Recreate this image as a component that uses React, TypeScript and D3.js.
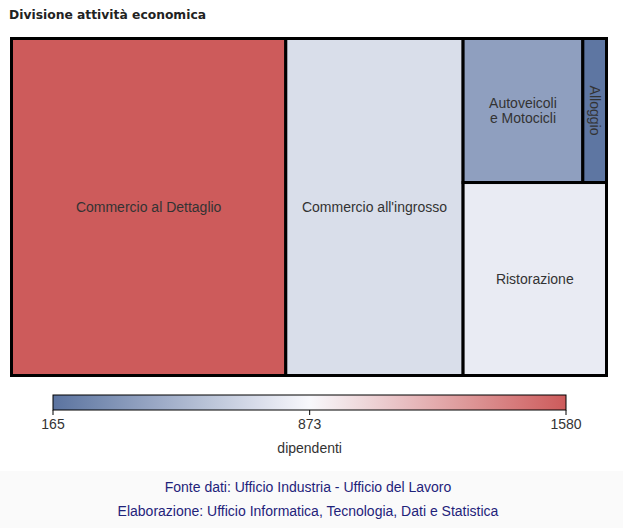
import React from "react";
import * as d3 from "d3";

const categories = ["Commercio al Dettaglio", "Commercio all'ingrosso", "Autoveicoli e Motocicli", "Alloggio", "Ristorazione"];
const sizes = [461, 298, 86, 17, 138];
const dipendenti = [1580, 735, 400, 180, 805];
const legendTicks = [165, 873, 1580];

const W = 623, H = 528;

export default function App() {
  const x0 = 11.5, y0 = 38.5, tw = 595, th = 337;
  const byName = (n: string) => {
    const i = categories.indexOf(n);
    return { name: n, size: sizes[i], dip: dipendenti[i] };
  };
  const data = {
    name: "root",
    children: [
      byName(categories[0]),
      byName(categories[1]),
      {
        name: "right",
        children: [
          { name: "top", children: [byName(categories[2]), byName(categories[3])] },
          byName(categories[4]),
        ],
      },
    ],
  };
  const root = d3.hierarchy<any>(data).sum((d: any) => (d.children ? 0 : d.size));
  d3.treemap<any>().tile(d3.treemapSliceDice).size([tw, th]).round(false)(root);
  const leaves = root.leaves() as any[];

  const color = d3
    .scaleLinear<string>()
    .domain([165, 873, 1580])
    .range(["#5b73a0", "#f8f8fc", "#cd5b5b"])
    .interpolate(d3.interpolateRgb);

  const lx0 = 53, lx1 = 566;
  const lscale = d3.scaleLinear().domain([165, 1580]).range([lx0, lx1]);
  const stops = d3.range(0, 1.0001, 0.1).map((t) => 165 + t * (1580 - 165));

  const labelLines: Record<string, string[]> = {
    "Autoveicoli e Motocicli": ["Autoveicoli", "e Motocicli"],
  };

  return (
    <svg width={W} height={H} style={{ position: "absolute", left: 0, top: 0, background: "#fff" }}
      fontFamily="'Liberation Sans', Arial, sans-serif">
      <defs>
        <linearGradient id="lg" x1="0" x2="1" y1="0" y2="0">
          {stops.map((v, i) => (
            <stop key={i} offset={(v - 165) / (1580 - 165)} stopColor={color(v)} />
          ))}
        </linearGradient>
      </defs>
      <text x={9} y={19} fontSize={13} fontWeight="bold" fill="#222" fontFamily="'DejaVu Sans', Verdana, sans-serif" textLength={197} lengthAdjust="spacingAndGlyphs">
        Divisione attività economica
      </text>
      <g transform={`translate(${x0},${y0})`}>
        {leaves.map((l) => (
          <rect key={l.data.name} x={l.x0} y={l.y0} width={l.x1 - l.x0} height={l.y1 - l.y0}
            fill={color(l.data.dip)} stroke="#000" strokeWidth={3} />
        ))}
        {leaves.map((l) => {
          const cx = (l.x0 + l.x1) / 2, cy = (l.y0 + l.y1) / 2;
          if (l.data.name === "Alloggio") {
            return (
              <text key={"t" + l.data.name} transform={`translate(${cx},${cy}) rotate(90)`} textAnchor="middle"
                dy="0.35em" fontSize={14} fill="#333">{l.data.name}</text>
            );
          }
          const lines = labelLines[l.data.name] || [l.data.name];
          return (
            <text key={"t" + l.data.name} x={cx} textAnchor="middle" fontSize={14} fill="#333">
              {lines.map((s, i) => (
                <tspan key={i} x={cx} y={cy + (i - (lines.length - 1) / 2) * 15} dy="0.35em">{s}</tspan>
              ))}
            </text>
          );
        })}
      </g>
      <rect x={lx0} y={395} width={lx1 - lx0} height={15} fill="url(#lg)" stroke="#000" strokeWidth={1} />
      {legendTicks.map((t) => (
        <g key={t}>
          <line x1={lscale(t)} x2={lscale(t)} y1={410} y2={415} stroke="#000" />
          <text x={lscale(t)} y={429} textAnchor="middle" fontSize={14} fill="#333">{t}</text>
        </g>
      ))}
      <text x={lscale(873)} y={453} textAnchor="middle" fontSize={14} fill="#333">dipendenti</text>
      <rect x={0} y={471} width={W} height={H - 471} fill="#fafafa" />
      <text x={308} y={492} textAnchor="middle" fontSize={14} fill="#1f237a">Fonte dati: Ufficio Industria - Ufficio del Lavoro</text>
      <text x={308} y={516} textAnchor="middle" fontSize={14} fill="#1f237a">Elaborazione: Ufficio Informatica, Tecnologia, Dati e Statistica</text>
    </svg>
  );
}
